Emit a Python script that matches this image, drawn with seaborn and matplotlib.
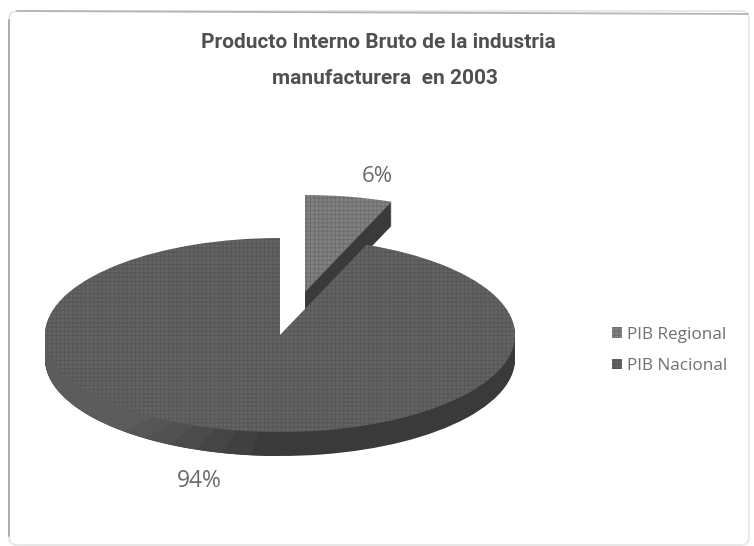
import matplotlib
matplotlib.use("Agg")
import matplotlib.pyplot as plt
from matplotlib.patches import FancyBboxPatch
import seaborn as sns

categories = ["PIB Regional", "PIB Nacional"]
values = [6, 94]
pct_labels = ["6%", "94%"]
title_lines = ["Producto Interno Bruto de la industria", "manufacturera  en 2003"]
top_colors = ["#828282", "#646464"]
wall_left = "#5c5c5c"
wall_right = "#3a3a3a"

sns.set_theme(style="white")
plt.rcParams["hatch.linewidth"] = 0.8

W, H = 754, 546
RX, RY, DEPTH = 235, 97, 24
k = RX / RY

fig = plt.figure(figsize=(W / 100, H / 100), dpi=100, facecolor="white")
ax = fig.add_axes([0, 0, 1, 1])


def px(x, y):
    return x, (H - y) * k


def one_layer(index, cx, cy, color):
    wedges, _ = ax.pie(values, startangle=90, counterclock=False, colors=[color, color],
                       radius=RX, center=px(cx, cy), frame=True,
                       wedgeprops={"linewidth": 0, "edgecolor": color})
    wedges[1 - index].remove()
    return wedges[index]


def wall_sector(cx, cy, start, span, color):
    # shading of the side wall only: one angular sector of the disc, not a data slice
    for d in range(DEPTH, 0, -1):
        wedges, _ = ax.pie([span, 360 - span], startangle=start, colors=[color, color],
                           radius=RX, center=px(cx, cy + d), frame=True,
                           wedgeprops={"linewidth": 0, "edgecolor": color})
        wedges[1].remove()


def draw_wedge(index, cx, cy, shaded):
    for d in range(DEPTH, 0, -1):
        one_layer(index, cx, cy + d, wall_right)
    if shaded:
        steps = 6
        shades = sns.blend_palette([wall_right, wall_left], steps + 1)
        for i in range(steps):
            wall_sector(cx, cy, 270 - 7 * (i + 1), 7, shades[i])
        wall_sector(cx, cy, 172, 270 - 7 * steps - 172, shades[steps])
    top = one_layer(index, cx, cy, top_colors[index])
    top.set_hatch("++++")
    top.set_edgecolor("#2a2a2a38")
    return top


slice_wedge = draw_wedge(0, 305, 292, False)
main_wedge = draw_wedge(1, 280, 335, True)

ax.set_aspect("auto")
ax.set_xlim(0, W)
ax.set_ylim(0, H * k)
ax.set_xticks([])
ax.set_yticks([])
ax.set_frame_on(False)

# faint full outline; left and top sides are stronger in the scan
frame = FancyBboxPatch((9, 1 * k), W - 14, (H - 12) * k, boxstyle="round,pad=0,rounding_size=8",
                       mutation_aspect=k, fc="none", ec="#e4e4e4", lw=1.2, clip_on=False)
ax.add_patch(frame)
ax.plot(*zip(px(9, 536), px(9, 20)), color="#a8a8a8", lw=1.3)
ax.plot(*zip(px(17, 11), px(748, 14)), color="#b4b4b4", lw=1.3)

ax.text(*px(378, 42), title_lines[0], ha="center", va="center", family="Roboto", weight="bold",
        fontsize=15, color="#505050")
ax.text(*px(385, 78), title_lines[1], ha="center", va="center", family="Roboto", weight="bold",
        fontsize=15, color="#505050")
ax.text(*px(377, 176), pct_labels[0], ha="center", va="center", family="Open Sans",
        fontsize=16, color="#6a6a6a")
ax.text(*px(199, 481), pct_labels[1], ha="center", va="center", family="Open Sans",
        fontsize=16.5, color="#6a6a6a")

leg = ax.legend([slice_wedge, main_wedge], categories, loc="center left",
                bbox_to_anchor=(597 / W, 1 - 350.5 / H), bbox_transform=fig.transFigure,
                frameon=False, handlelength=0.55, handleheight=0.55, handletextpad=0.3,
                labelspacing=0.92, prop={"family": "Open Sans", "size": 12.3}, labelcolor="#707070")

fig.savefig("out.png", dpi=100)
